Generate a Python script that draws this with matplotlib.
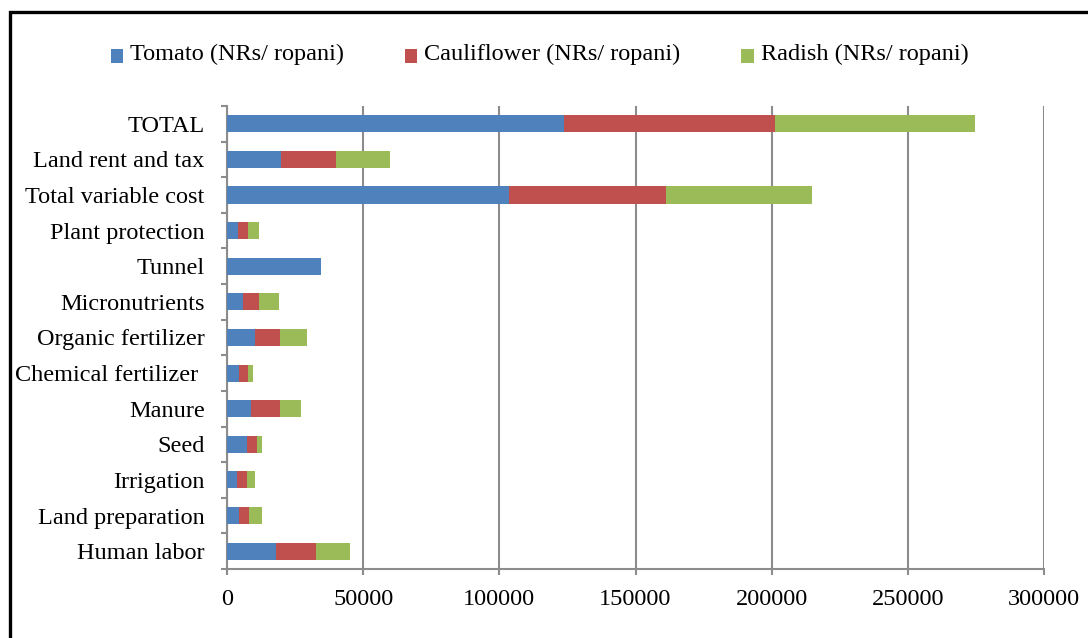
import numpy as np
import matplotlib.pyplot as plt
from matplotlib.patches import Rectangle, Patch
from matplotlib.legend_handler import HandlerPatch
from matplotlib.ticker import MultipleLocator, FixedLocator

plt.rcParams.update({
    'font.family': 'Liberation Serif',
    'font.size': 17.5,
})

# cost items, listed bottom to top
categories = ['Human labor', 'Land preparation', 'Irrigation', 'Seed', 'Manure',
              'Chemical fertilizer ', 'Organic fertilizer', 'Micronutrients', 'Tunnel',
              'Plant protection', 'Total variable cost', 'Land rent and tax', 'TOTAL']

tomato = [17900, 4400, 3800, 7200, 8800, 4400, 10400, 6000, 34700, 4200, 103600, 20000, 123600]
cauliflower = [14800, 3550, 3400, 4000, 10700, 3200, 9100, 5600, 0, 3400, 57700, 20000, 77700]
radish = [12400, 5000, 3200, 1700, 7800, 2100, 9900, 7500, 0, 4100, 53500, 20000, 73500]

series_names = ['Tomato (NRs/ ropani)', 'Cauliflower (NRs/ ropani)', 'Radish (NRs/ ropani)']
colors = ['#4F81BD', '#C0504D', '#9BBB59']

fig = plt.figure(figsize=(10.88, 6.38), dpi=100)
ax = fig.add_axes([0.2086, 0.1082, 0.751, 0.7257])

y = np.arange(len(categories))
left = np.zeros(len(categories))
for vals, name, col in zip([tomato, cauliflower, radish], series_names, colors):
    ax.barh(y, vals, left=left, height=0.48, color=col, label=name, zorder=3)
    left += np.array(vals)

ax.set_xlim(0, 300000)
ax.set_ylim(-0.5, len(categories) - 0.5)
ax.xaxis.set_major_locator(MultipleLocator(50000))
ax.set_yticks(y)
ax.set_yticklabels(categories)
ax.yaxis.set_minor_locator(FixedLocator(np.arange(-0.5, len(categories), 1.0)))

grid_col = '#8c8c8c'
ax.grid(axis='x', color=grid_col, linewidth=1.5, zorder=0)
for s in ['top', 'right']:
    ax.spines[s].set_visible(False)
for s in ['left', 'bottom']:
    ax.spines[s].set_color(grid_col)
    ax.spines[s].set_linewidth(1.5)

ax.tick_params(axis='y', which='major', length=0, pad=16)
ax.tick_params(axis='y', which='minor', length=4.5, width=1.5, color=grid_col)
ax.tick_params(axis='x', length=4.5, width=1.5, color=grid_col, pad=10)


# small square keys sitting on the text baseline
def square_key(legend, orig_handle, xdescent, ydescent, width, height, fontsize):
    return Rectangle((-xdescent, -ydescent - 3.2), width, height)


handles = [Patch(facecolor=c, edgecolor='none') for c in colors]
fig.legend(handles, series_names, loc='center', bbox_to_anchor=(0.496, 0.915), ncol=3,
           frameon=False, handlelength=0.5, handleheight=0.5, handletextpad=0.3,
           columnspacing=2.5, borderaxespad=0,
           handler_map={Patch: HandlerPatch(patch_func=square_key)})

# outer frame of the chart (right and bottom edges cut off)
fig.patches.append(Rectangle((10 / 1088, -0.2), 1.5, 1.2 - 12 / 638,
                             transform=fig.transFigure, fill=False,
                             edgecolor='black', linewidth=2.4))

fig.savefig('out.png', dpi=100)
